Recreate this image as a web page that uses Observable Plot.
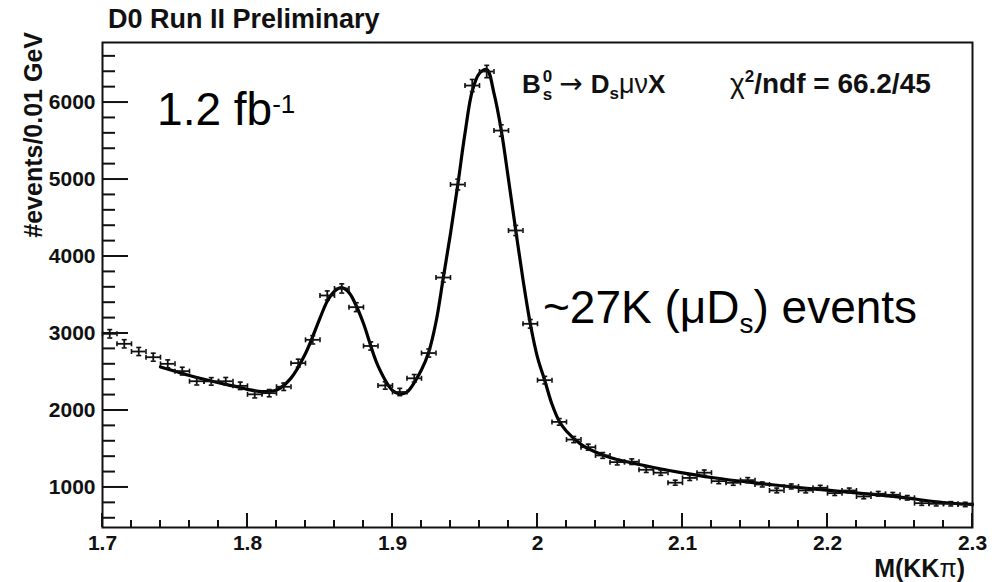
<!DOCTYPE html>
<html><head><meta charset="utf-8">
<script src="https://cdn.jsdelivr.net/npm/d3@7"></script>
<script src="https://cdn.jsdelivr.net/npm/@observablehq/plot@0.6"></script>
<style>body{margin:0;background:#fff} svg{display:block}</style>
</head><body><div id="chart"></div>
<script>
// ---- data ----
const binCenters = [
  1.705,1.715,1.725,1.735,1.745,1.755,1.765,1.775,1.785,1.795,
  1.805,1.815,1.825,1.835,1.845,1.855,1.865,1.875,1.885,1.895,
  1.905,1.915,1.925,1.935,1.945,1.955,1.965,1.975,1.985,1.995,
  2.005,2.015,2.025,2.035,2.045,2.055,2.065,2.075,2.085,2.095,
  2.105,2.115,2.125,2.135,2.145,2.155,2.165,2.175,2.185,2.195,
  2.205,2.215,2.225,2.235,2.245,2.255,2.265,2.275,2.285,2.295];
const counts = [
  2996,2866,2766,2692,2606,2511,2380,2378,2380,2320,
  2210,2225,2308,2615,2918,3494,3585,3342,2838,2325,
  2240,2418,2746,3727,4935,6221,6403,5636,4338,3126,
  2394,1852,1622,1523,1416,1329,1335,1230,1192,1062,
  1124,1192,1082,1061,1095,1039,961,1013,961,996,
  926,961,883,918,905,866,796,788,788,779];
const binHalfWidth = 0.005;

const fitX = [1.74,1.75,1.76,1.77,1.78,1.79,1.80,1.81,1.82,1.83,1.84,1.85,1.855,1.86,1.865,1.87,1.875,1.88,1.89,1.90,1.905,1.91,1.92,1.925,1.93,1.935,1.94,1.945,1.95,1.955,1.96,1.965,1.97,1.975,1.98,1.985,1.99,1.995,2.00,2.005,2.01,2.015,2.02,2.03,2.04,2.05,2.06,2.08,2.10,2.12,2.15,2.18,2.20,2.22,2.25,2.26,2.28,2.30];
const fitY = [2565,2510,2455,2405,2360,2320,2275,2245,2265,2420,2740,3200,3420,3550,3595,3530,3360,3130,2580,2260,2215,2240,2530,2760,3150,3720,4300,4930,5600,6150,6380,6430,6120,5640,5000,4340,3700,3130,2690,2390,2080,1860,1730,1560,1460,1390,1340,1260,1190,1130,1060,1000,965,930,875,850,805,780];

const xMajor = [1.7,1.8,1.9,2.0,2.1,2.2,2.3];
const xTickLabels = ["1.7","1.8","1.9","2","2.1","2.2","2.3"];
const xMinor = [1.72,1.74,1.76,1.78,1.82,1.84,1.86,1.88,1.92,1.94,1.96,1.98,2.02,2.04,2.06,2.08,2.12,2.14,2.16,2.18,2.22,2.24,2.26,2.28];
const yMajor = [1000,2000,3000,4000,5000,6000];
const yTickLabels = ["1000","2000","3000","4000","5000","6000"];
const yMinor = [600,800,1200,1400,1600,1800,2200,2400,2600,2800,3200,3400,3600,3800,4200,4400,4600,4800,5200,5400,5600,5800,6200,6400,6600];

const titleText = "D0 Run II Preliminary";
const yTitle = "#events/0.01 GeV";
const lumiAnchor = {x: 1.738, y: 5700};
const eventsAnchor = {x: 2.0041, y: 3130};
const decayAnchor = {x: 1.9897, y: 6117};
const chiAnchor = {x: 2.1331, y: 6117};
const chiText = "/ndf = 66.2/45";

// ---- layout ----
const W = 996, H = 582, mL = 102, mR = 24, mT = 42, mB = 55;
const ink = "#111";

const rows = binCenters.map((x, i) => ({x, y: counts[i], e: Math.sqrt(counts[i])}));
const fitRows = fitX.map((x, i) => ({x, y: fitY[i]}));

const capH = {draw(ctx) { ctx.moveTo(-2.5, 0); ctx.lineTo(2.5, 0); }};
const capV = {draw(ctx) { ctx.moveTo(0, -2.5); ctx.lineTo(0, 2.5); }};

const plot = Plot.plot({
  width: W, height: H,
  marginLeft: mL, marginRight: mR, marginTop: mT, marginBottom: mB,
  style: {fontFamily: "'Liberation Sans', Arial, Helvetica, sans-serif", background: "#fff", color: ink},
  x: {domain: [1.7, 2.3]},
  y: {domain: [480, 6780]},
  marks: [
    Plot.axisX(xMajor, {tickSize: 0, tickPadding: 8, label: null, fontSize: 21, fontWeight: "bold",
      tickFormat: d => xTickLabels[xMajor.indexOf(d)]}),
    Plot.axisY(yMajor, {tickSize: 0, tickPadding: 7, label: null, fontSize: 21, fontWeight: "bold",
      tickFormat: d => yTickLabels[yMajor.indexOf(d)]}),
    // fit
    Plot.line(fitRows, {x: "x", y: "y", curve: "catmull-rom", stroke: "#000", strokeWidth: 3.2}),
    // data error bars
    Plot.ruleY(rows, {y: "y", x1: d => d.x - binHalfWidth, x2: d => d.x + binHalfWidth, stroke: ink, strokeWidth: 1.8}),
    Plot.ruleX(rows, {x: "x", y1: d => d.y - d.e, y2: d => d.y + d.e, stroke: ink, strokeWidth: 1.8}),
    Plot.dot(rows, {x: "x", y: d => d.y + d.e, symbol: capH, fill: "none", stroke: ink, strokeWidth: 1.6}),
    Plot.dot(rows, {x: "x", y: d => d.y - d.e, symbol: capH, fill: "none", stroke: ink, strokeWidth: 1.6}),
    Plot.dot(rows, {x: d => d.x - binHalfWidth, y: "y", symbol: capV, fill: "none", stroke: ink, strokeWidth: 1.6}),
    Plot.dot(rows, {x: d => d.x + binHalfWidth, y: "y", symbol: capV, fill: "none", stroke: ink, strokeWidth: 1.6}),
    Plot.frame({stroke: ink, strokeWidth: 2})
  ]
});

document.getElementById("chart").appendChild(plot);

const svg = d3.select(plot);
const sx = plot.scale("x"), sy = plot.scale("y");
const FF = "'Liberation Sans', Arial, Helvetica, sans-serif";
const bottomY = H - mB, leftX = mL;

// ---- ROOT-style inward ticks, placed with Plot's scales ----
const tg = svg.append("g").attr("stroke", ink).attr("stroke-width", 2);
for (const v of xMajor) { const px = sx.apply(v); tg.append("line").attr("x1", px).attr("x2", px).attr("y1", bottomY).attr("y2", bottomY - 14); }
for (const v of xMinor) { const px = sx.apply(v); tg.append("line").attr("x1", px).attr("x2", px).attr("y1", bottomY).attr("y2", bottomY - 7); }
for (const v of yMajor) { const py = sy.apply(v); tg.append("line").attr("y1", py).attr("y2", py).attr("x1", leftX).attr("x2", leftX + 26); }
for (const v of yMinor) { const py = sy.apply(v); tg.append("line").attr("y1", py).attr("y2", py).attr("x1", leftX).attr("x2", leftX + 13); }

// ---- texts ----
svg.append("text").attr("x", mL + 6).attr("y", mT - 14).attr("text-anchor", "start")
  .attr("font-family", FF).attr("font-size", 27).attr("font-weight", "bold").attr("fill", ink)
  .text(titleText);

svg.append("text").attr("transform", `translate(${mL - 60},${mT - 10}) rotate(-90)`)
  .attr("text-anchor", "end")
  .attr("font-family", FF).attr("font-size", 25).attr("font-weight", "bold").attr("fill", ink)
  .text(yTitle);

{
  const t = svg.append("text").attr("x", W - mR - 7).attr("y", H - 5).attr("text-anchor", "end")
    .attr("font-family", FF).attr("font-size", 25).attr("font-weight", "bold").attr("fill", ink);
  t.append("tspan").text("M(KK");
  t.append("tspan").attr("font-weight", "normal").text("π");
  t.append("tspan").text(")");
}

{
  const t = svg.append("text").attr("x", sx.apply(lumiAnchor.x)).attr("y", sy.apply(lumiAnchor.y))
    .attr("text-anchor", "start").attr("font-family", FF).attr("font-size", 46).attr("fill", "#000");
  t.append("tspan").text("1.2 fb");
  t.append("tspan").attr("font-size", 26).attr("dy", -12).text("-1");
}

{
  const t = svg.append("text").attr("x", sx.apply(eventsAnchor.x)).attr("y", sy.apply(eventsAnchor.y))
    .attr("text-anchor", "start").attr("font-family", FF).attr("font-size", 46).attr("fill", "#000");
  t.append("tspan").text("~27K (μD");
  t.append("tspan").attr("font-size", 28).attr("dy", 10).text("s");
  t.append("tspan").attr("dy", -10).text(") events");
}

{
  const t = svg.append("text").attr("x", sx.apply(decayAnchor.x)).attr("y", sy.apply(decayAnchor.y))
    .attr("text-anchor", "start").attr("font-family", FF).attr("font-size", 26).attr("font-weight", "bold").attr("fill", ink);
  t.append("tspan").text("B");
  t.append("tspan").attr("font-size", 17).attr("dx", 2).attr("dy", -11).text("0");
  t.append("tspan").attr("font-size", 17).attr("dx", -9.5).attr("dy", 18).text("s");
  t.append("tspan").attr("font-family", "'DejaVu Sans', sans-serif").attr("font-weight", "normal")
    .attr("font-size", 28).attr("dx", 7).attr("dy", -7).text("→");
  t.append("tspan").attr("dx", 8).text("D");
  t.append("tspan").attr("font-size", 17).attr("dy", 6).text("s");
  t.append("tspan").attr("font-weight", "normal").attr("font-size", 27).attr("dy", -6).text("μν");
  t.append("tspan").text("X");
}

{
  const t = svg.append("text").attr("x", sx.apply(chiAnchor.x)).attr("y", sy.apply(chiAnchor.y))
    .attr("text-anchor", "start").attr("font-family", FF).attr("font-size", 28).attr("font-weight", "bold").attr("fill", ink);
  t.append("tspan").attr("font-weight", "normal").text("χ");
  t.append("tspan").attr("font-size", 17).attr("dy", -11).text("2");
  t.append("tspan").attr("dy", 11).text(chiText);
}
</script>
</body></html>
